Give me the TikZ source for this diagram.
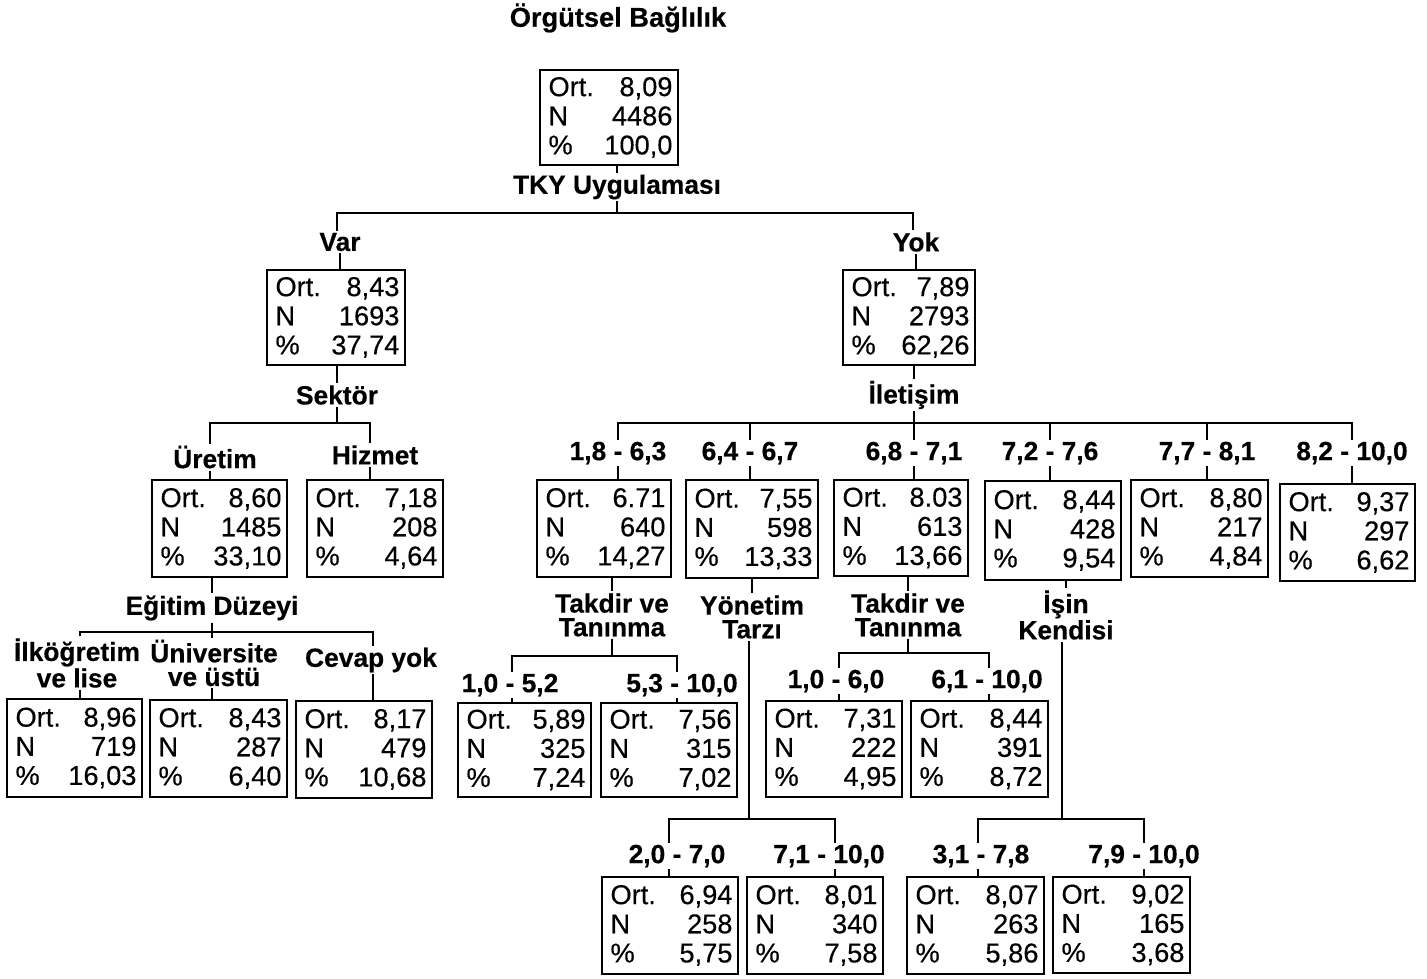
\documentclass[tikz,border=0pt]{standalone}
\usepackage{fontspec}
\setmainfont{Liberation Sans}
\usetikzlibrary{fit}
\newcommand\statbox[8]{%
  \node[sbox, fit={(#2,#3) (#4,#5)}] (#1) {};
  \pgfmathsetmacro\sbw{(#4-#2-14)*0.02}%
  \node[stxt, text width=\sbw cm, xshift=0.03cm] (#1t) at (#1.center) {Ort.\hfill#6\\N\hfill#7\\\%\hfill#8};
}
\begin{document}
\begin{tikzpicture}[x=0.02cm,y=-0.02cm,
  lbl/.style={font=\bfseries\fontsize{15}{13.5}\selectfont\addfontfeature{FakeBold=0.4}, align=center, inner sep=1pt},
  ttl/.style={font=\bfseries\fontsize{15.5}{15}\selectfont\addfontfeature{FakeBold=0.4}, inner sep=1pt},
  sbox/.style={draw, line width=1.2pt, inner sep=0pt},
  stxt/.style={font=\fontsize{15.5}{16.6}\selectfont\addfontfeature{FakeBold=0.3}, align=left, inner sep=0pt},
  conn/.style={line width=0.9pt}]
\useasboundingbox (0,0) rectangle (1427,978);
\fill[white] (0,0) rectangle (1427,978);

% ---- root
\node[ttl] (ltitle) at (618,18) {Örgütsel Bağlılık};
\statbox{broot}{540}{70}{678}{165}{8,09}{4486}{100,0}
\node[lbl] (ltky) at (617,187) {TKY Uygulaması};
\coordinate (h1L) at (337,213);
\coordinate (h1R) at (913,213);

% ---- level 1
\node[lbl] (lvar) at (340,242) {Var};
\node[lbl] (lyok) at (916,242) {Yok};
\statbox{bvar}{267}{270}{405}{365}{8,43}{1693}{37,74}
\statbox{byok}{843}{270}{975}{365}{7,89}{2793}{62,26}

% ---- Sektör branch
\node[lbl] (lsek) at (337,395) {Sektör};
\coordinate (hSL) at (210,423);
\coordinate (hSR) at (370,423);
\node[lbl] (luret) at (215,457) {Üretim};
\node[lbl] (lhiz) at (375,455) {Hizmet};
\statbox{buret}{152}{480}{287}{577}{8,60}{1485}{33,10}
\statbox{bhiz}{307}{480}{443}{577}{7,18}{208}{4,64}
\node[lbl] (legit) at (212,608) {Eğitim Düzeyi};
\coordinate (hEL) at (80,632);
\coordinate (hER) at (373,632);
\node[lbl] (lilk) at (77,663) {İlköğretim\\ve lise};
\node[lbl] (luni) at (214,663) {Üniversite\\ve üstü};
\node[lbl] (lcev) at (371,660) {Cevap yok};
\statbox{bilk}{7}{699}{142}{797}{8,96}{719}{16,03}
\statbox{buni}{150}{700}{287}{797}{8,43}{287}{6,40}
\statbox{bcev}{296}{701}{432}{798}{8,17}{479}{10,68}

% ---- İletişim branch
\node[lbl] (liles) at (914,395) {İletişim};
\coordinate (hI) at (914,423);
\node[lbl] (la) at (618,453) {1,8 - 6,3};
\node[lbl] (lb) at (750,453) {6,4 - 6,7};
\node[lbl] (lc) at (914,453) {6,8 - 7,1};
\node[lbl] (ld) at (1050,453) {7,2 - 7,6};
\node[lbl] (le) at (1207,453) {7,7 - 8,1};
\node[lbl] (lf) at (1352,453) {8,2 - 10,0};
\statbox{ba}{537}{480}{671}{577}{6.71}{640}{14,27}
\statbox{bb}{686}{480}{818}{578}{7,55}{598}{13,33}
\statbox{bc}{834}{480}{968}{576}{8.03}{613}{13,66}
\statbox{bd}{985}{481}{1121}{580}{8,44}{428}{9,54}
\statbox{be}{1131}{480}{1268}{577}{8,80}{217}{4,84}
\statbox{bf}{1280}{484}{1415}{581}{9,37}{297}{6,62}

% under a
\node[lbl] (lta) at (612,615) {Takdir ve\\Tanınma};
\coordinate (hAL) at (512,656);
\coordinate (hAR) at (677,656);
\node[lbl] (la1) at (510,685) {1,0 - 5,2};
\node[lbl] (la2) at (682,685) {5,3 - 10,0};
\statbox{ba1}{458}{703}{591}{797}{5,89}{325}{7,24}
\statbox{ba2}{601}{703}{737}{797}{7,56}{315}{7,02}

% under b
\node[lbl] (lyt) at (752,617) {Yönetim\\Tarzı};
\coordinate (hBM) at (749,819);
\coordinate (hBL) at (669,819);
\coordinate (hBR) at (835,819);
\node[lbl] (lb1) at (677,856) {2,0 - 7,0};
\node[lbl] (lb2) at (829,856) {7,1 - 10,0};
\statbox{bb1}{602}{877}{738}{974}{6,94}{258}{5,75}
\statbox{bb2}{747}{877}{883}{974}{8,01}{340}{7,58}

% under c
\node[lbl] (ltc) at (908,615) {Takdir ve\\Tanınma};
\coordinate (hCL) at (839,653);
\coordinate (hCR) at (989,653);
\node[lbl] (lc1) at (836,681) {1,0 - 6,0};
\node[lbl] (lc2) at (987,681) {6,1 - 10,0};
\statbox{bc1}{766}{701}{902}{797}{7,31}{222}{4,95}
\statbox{bc2}{911}{701}{1048}{797}{8,44}{391}{8,72}

% under d
\node[lbl] (lik) at (1066,615) {İşin\\Kendisi};
\coordinate (hDM) at (1062,819);
\coordinate (hDL) at (978,819);
\coordinate (hDR) at (1144,819);
\node[lbl] (ld1) at (981,856) {3,1 - 7,8};
\node[lbl] (ld2) at (1144,856) {7,9 - 10,0};
\statbox{bd1}{907}{877}{1044}{974}{8,07}{263}{5,86}
\statbox{bd2}{1053}{877}{1190}{973}{9,02}{165}{3,68}

% ---- connectors
\begin{scope}[conn]
\draw (ltky.north |- broot.south) -- (ltky.north);
\draw (ltky.south) -- (ltky.south |- h1L);
\draw (lvar.north -| h1L) -- (h1L) -- (h1R) -- (lyok.north -| h1R);
\draw (lvar.south) -- (lvar.south |- bvar.north);
\draw (lyok.south) -- (lyok.south |- byok.north);
% Sektör
\draw (lsek.north |- bvar.south) -- (lsek.north);
\draw (lsek.south) -- (lsek.south |- hSL);
\draw (luret.north -| hSL) -- (hSL) -- (hSR) -- (lhiz.north -| hSR);
\draw (hSL |- luret.south) -- (hSL |- buret.north);
\draw (hSR |- lhiz.south) -- (hSR |- bhiz.north);
\draw (legit.north |- buret.south) -- (legit.north);
\draw (legit.south) -- (legit.south |- luni.north);
\draw (lilk.north -| hEL) -- (hEL) -- (hER) -- (lcev.north -| hER);
\draw (hEL |- lilk.south) -- (hEL |- bilk.north);
\draw (luni.south -| legit.south) -- (legit.south |- buni.north);
\draw (hER |- lcev.south) -- (hER |- bcev.north);
% İletişim
\draw (liles.north |- byok.south) -- (liles.north);
\draw (liles.south) -- (hI);
\draw (la.north) -- (la.north |- hI) -- (lf.north |- hI) -- (lf.north);
\draw (lb.north |- hI) -- (lb.north);
\draw (lc.north |- hI) -- (lc.north);
\draw (ld.north |- hI) -- (ld.north);
\draw (le.north |- hI) -- (le.north);
\foreach \n in {a,b,c,d,e,f} {\draw (l\n.south) -- (l\n.south |- b\n.north);}
% under a
\draw (lta.north |- ba.south) -- (lta.north);
\draw (lta.south) -- (lta.south |- hAL);
\draw (la1.north -| hAL) -- (hAL) -- (hAR) -- (la2.north -| hAR);
\draw (hAL |- la1.south) -- (hAL |- ba1.north);
\draw (hAR |- la2.south) -- (hAR |- ba2.north);
% under b
\draw (lyt.north |- bb.south) -- (lyt.north);
\draw (hBM |- lyt.south) -- (hBM);
\draw (lb1.north -| hBL) -- (hBL) -- (hBR) -- (lb2.north -| hBR);
\draw (hBL |- lb1.south) -- (hBL |- bb1.north);
\draw (hBR |- lb2.south) -- (hBR |- bb2.north);
% under c
\draw (ltc.north |- bc.south) -- (ltc.north);
\draw (ltc.south) -- (ltc.south |- hCL);
\draw (lc1.north -| hCL) -- (hCL) -- (hCR) -- (lc2.north -| hCR);
\draw (hCL |- lc1.south) -- (hCL |- bc1.north);
\draw (hCR |- lc2.south) -- (hCR |- bc2.north);
% under d
\draw (lik.north |- bd.south) -- (lik.north);
\draw (hDM |- lik.south) -- (hDM);
\draw (ld1.north -| hDL) -- (hDL) -- (hDR) -- (ld2.north -| hDR);
\draw (hDL |- ld1.south) -- (hDL |- bd1.north);
\draw (hDR |- ld2.south) -- (hDR |- bd2.north);
\end{scope}
\end{tikzpicture}
\end{document}
